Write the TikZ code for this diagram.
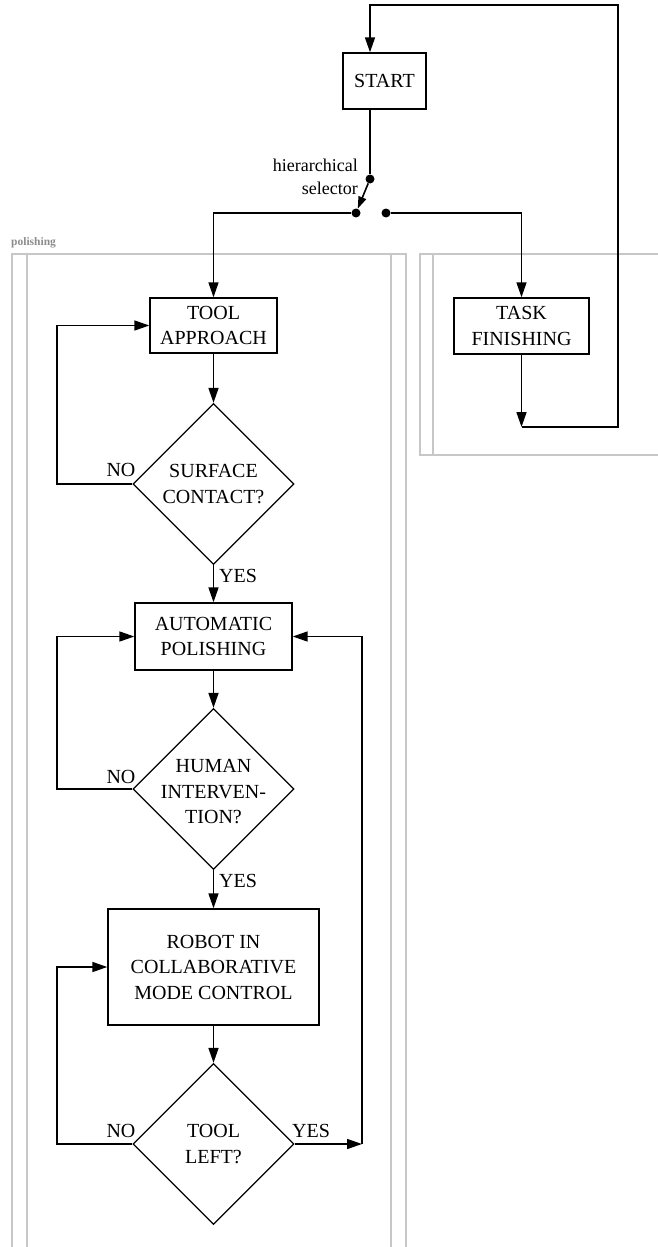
\documentclass[tikz,border=0pt]{standalone}
\usepackage{fontspec}
\setmainfont{Liberation Serif}
\usetikzlibrary{arrows.meta,shapes.geometric,calc}
\begin{document}
\begin{tikzpicture}[x=1pt,y=-1pt,
  box/.style={draw, line width=1.4pt, inner sep=0pt, align=center, font=\fontsize{20}{25.5}\selectfont},
  dia/.style={draw, diamond, line width=1.3pt, inner sep=0pt, minimum width=161pt, minimum height=161pt},
  dtext/.style={align=center, font=\fontsize{20}{25.5}\selectfont, inner sep=0pt},
  lbl/.style={font=\fontsize{20}{24}\selectfont, inner sep=0pt},
  conn/.style={line width=1.6pt},
  arr/.style={conn, -{Triangle[length=15pt,width=10pt]}},
  frameline/.style={draw=black!22, line width=1.5pt},
  dot/.style={circle, fill, inner sep=0pt, minimum size=9pt}
]
\useasboundingbox (0,0) rectangle (657,1247);

% gray frames
\draw[frameline] (12,1247) -- (12,254) -- (406,254) -- (406,1247);
\draw[frameline] (27,254) -- (27,1247);
\draw[frameline] (391,254) -- (391,1247);
\draw[frameline] (660,254) -- (420,254) -- (420,455) -- (660,455);
\draw[frameline] (433,254) -- (433,455);
\node[anchor=west, inner sep=0pt, text=black!45, font=\fontsize{11.5}{12}\selectfont\bfseries] (pol) at (11,243) {polishing};

% coordinates
\coordinate (xL) at (57,0);
\coordinate (xR) at (362,0);
\coordinate (retY) at (0,427);
\coordinate (rc) at (618,427);
\coordinate (tr) at (618,5);

% nodes
\node[box, minimum width=83pt, minimum height=56pt] (start) at (384.5,81) {START};
\node[dot] (sA) at (370,179) {};
\node[dot] (sB) at (356,213) {};
\node[dot] (sC) at (386,213) {};
\node[anchor=east, align=right, inner sep=0pt, font=\fontsize{18}{23}\selectfont] (hs) at (358,177) {hierarchical\\selector};

\node[box, minimum width=127pt, minimum height=55pt] (ta) at (213.5,325.5) {TOOL\\APPROACH};
\node[box, minimum width=135pt, minimum height=56pt] (tf) at (521.5,326) {TASK\\FINISHING};

\node[dia] (d1) at (213.5,484) {};
\node[dtext] (d1t) at (213.5,484) {SURFACE\\CONTACT?};

\node[box, minimum width=157pt, minimum height=67pt] (ap) at (213.5,636.5) {AUTOMATIC\\POLISHING};

\node[dia] (d2) at (213.5,789) {};
\node[dtext] (d2t) at (213.5,792) {HUMAN\\INTERVEN-\\TION?};

\node[box, minimum width=211pt, minimum height=116pt] (rb) at (213.5,967) {ROBOT IN\\COLLABORATIVE\\MODE CONTROL};

\node[dia] (d3) at (213.5,1144) {};
\node[dtext] (d3t) at (213.5,1144) {TOOL\\LEFT?};

% labels
\node[lbl] (no1) at (121,470) {NO};
\node[lbl] (yes1) at (238,576) {YES};
\node[lbl] (no2) at (121,777) {NO};
\node[lbl] (yes2) at (238,881) {YES};
\node[lbl] (no3) at (121,1131) {NO};
\node[lbl] (yes3) at (311,1131) {YES};

% connectors
\draw[conn] (start.south -| sA) -- (sA);
\draw[arr, -{Triangle[length=12pt,width=8pt]}] (sA) -- (sB);
\draw[arr] (sB) -| (ta.north);
\draw[arr] (sC) -| (tf.north);
\draw[arr] (tf.south) -- (tf.south |- retY);
\draw[arr] (tf.south |- retY) -- (rc) -- (tr) -- (tr -| sA) -- (start.north -| sA);

\draw[arr] (ta.south) -- (d1.north);
\draw[arr] (d1.west) -- (d1.west -| xL) |- (ta.west);
\draw[arr] (d1.south) -- (ap.north);
\draw[arr] (ap.south) -- (d2.north);
\draw[arr] (d2.west) -- (d2.west -| xL) |- (ap.west);
\draw[arr] (d2.south) -- (rb.north);
\draw[arr] (rb.south) -- (d3.north);
\draw[arr] (d3.west) -- (d3.west -| xL) |- (rb.west);
\draw[arr] (d3.east) -- (d3.east -| xR);
\draw[arr] (d3.east -| xR) |- (ap.east);
\end{tikzpicture}
\end{document}
